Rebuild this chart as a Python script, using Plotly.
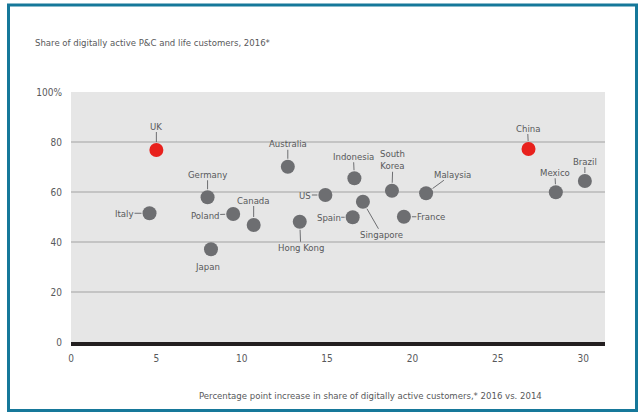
import plotly.graph_objects as go

# Digitally active insurance customers by country
countries = ["UK", "Italy", "Germany", "Poland", "Canada", "Australia", "Japan",
             "Hong Kong", "US", "Indonesia", "Spain", "Singapore", "South Korea",
             "France", "Malaysia", "China", "Mexico", "Brazil"]
increase_pp = [5.0, 4.6, 8.0, 9.5, 10.7, 12.7, 8.2, 13.4, 14.9, 16.6, 16.5, 17.1,
               18.8, 19.5, 20.8, 26.8, 28.4, 30.1]
share_2016 = [76.8, 51.5, 57.9, 51.2, 46.8, 70.1, 37.1, 48.1, 58.8, 65.5, 49.9, 56.1,
              60.5, 50.1, 59.5, 77.2, 59.9, 64.4]
highlighted = ["UK", "China"]

x_ticks = [0, 5, 10, 15, 20, 25, 30]
y_ticks = [0, 20, 40, 60, 80, 100]
y_tick_text = ["0", "20", "40", "60", "80", "100%"]

FONT = "DejaVu Sans Condensed, Liberation Sans Narrow, Arial Narrow, sans-serif"
TEXT = "#58595b"
GREY_DOT = "#6d6e71"
RED_DOT = "#e8211d"
FS = 9.5

# label placement around each dot: (dx px, dy px, draw leader line)
label_pos = {
    "UK": (0, -24, True), "Italy": (-25, 0, True), "Germany": (0, -23, True),
    "Poland": (-28, 1, True), "Canada": (0, -25, True), "Australia": (0, -23, True),
    "Japan": (-3, 17, False), "Hong Kong": (1, 26, True), "US": (-20, 0, True),
    "Indonesia": (-1, -22, True), "Spain": (-24, 0, True), "Singapore": (19, 33, True),
    "South Korea": (1, -31, True), "France": (27, 0, True), "Malaysia": (26, -19, True),
    "China": (-1, -21, True), "Mexico": (-1, -20, True), "Brazil": (0, -20, True),
}

W, H = 641, 412
L, R, T, B = 71, 36, 92, 70

colors = [RED_DOT if c in highlighted else GREY_DOT for c in countries]

fig = go.Figure(go.Scatter(
    x=increase_pp, y=share_2016, mode="markers",
    marker=dict(size=14, color=colors, line=dict(width=0)),
    hoverinfo="text", text=countries,
))

annotations = []
for c, xv, yv in zip(countries, increase_pp, share_2016):
    dx, dy, line = label_pos[c]
    annotations.append(dict(
        x=xv, y=yv, xref="x", yref="y", ax=dx, ay=dy,
        text=c.replace("South Korea", "South<br>Korea"),
        showarrow=True, arrowhead=0, arrowwidth=1,
        arrowcolor="#6d6e71" if line else "rgba(0,0,0,0)",
        standoff=8, font=dict(family=FONT, size=FS, color=TEXT),
        borderpad=0,
    ))

pw, ph = W - L - R, H - T - B
def px_x(p):
    return (p - L) / pw
def px_y(p):
    return (H - B - p) / ph

annotations.append(dict(
    text="Share of digitally active P&C and life customers, 2016*",
    xref="paper", yref="paper", x=px_x(33), y=px_y(42), xanchor="left", yanchor="middle",
    showarrow=False, font=dict(family=FONT, size=FS, color=TEXT),
))
annotations.append(dict(
    text="Percentage point increase in share of digitally active customers,* 2016 vs. 2014",
    xref="paper", yref="paper", x=px_x(370), y=px_y(395), xanchor="center", yanchor="middle",
    showarrow=False, font=dict(family=FONT, size=FS, color=TEXT),
))

shapes = [dict(
    type="rect", xref="paper", yref="paper", layer="above",
    x0=px_x(8.5), x1=px_x(636.5), y0=px_y(410.5), y1=px_y(5),
    line=dict(color="#16789a", width=3), fillcolor="rgba(0,0,0,0)",
)]

fig.update_layout(
    width=W, height=H,
    margin=dict(l=L, r=R, t=T, b=B, pad=0),
    paper_bgcolor="white", plot_bgcolor="#e6e6e6",
    showlegend=False,
    annotations=annotations, shapes=shapes,
    xaxis=dict(
        range=[0, 31.28], tickvals=x_ticks, showgrid=False, zeroline=False,
        showline=True, linecolor="#231f20", linewidth=4,
        ticks="", ticklabelstandoff=4,
        tickfont=dict(family=FONT, size=10, color=TEXT),
    ),
    yaxis=dict(
        range=[0, 100], tickvals=y_ticks, ticktext=y_tick_text,
        showgrid=True, gridcolor="#c4c4c4", gridwidth=1.5, zeroline=False,
        ticks="", ticklabelstandoff=8,
        tickfont=dict(family=FONT, size=10, color=TEXT),
    ),
)

fig.write_html("out.html")
